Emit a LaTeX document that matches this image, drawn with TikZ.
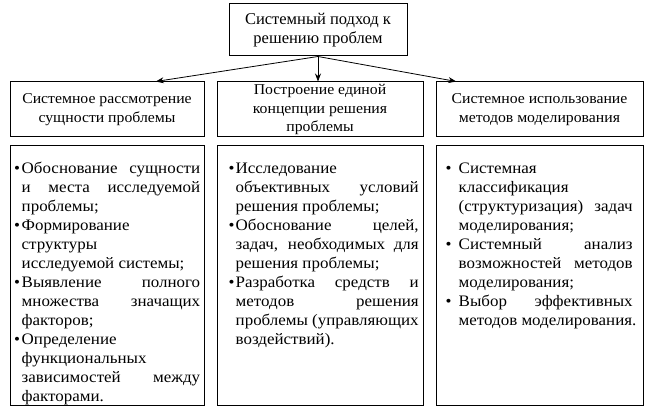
\documentclass[tikz,border=0pt]{standalone}
\usepackage{fontspec}
\setmainfont{Liberation Serif}
\newfontfamily\bodyfont{Liberation Serif}[FakeStretch=1.06]
\newfontfamily\headfont{Liberation Serif}[FakeStretch=1.05]
\usetikzlibrary{arrows.meta,calc}
\newlength\bhang
\newcommand\bitem[2]{\par\noindent\setlength\bhang{#1}\hangindent=\bhang\hangafter=1\makebox[\bhang][l]{\textbullet}#2\par}
\tikzset{
  box/.style={draw, line width=1pt, inner sep=0pt},
  headtext/.style={align=center, font=\headfont\fontsize{15}{18.5}\selectfont},
  bodytext/.style={anchor=north west, inner sep=0pt, align=justify, font=\bodyfont\fontsize{16}{19}\selectfont},
  arr/.style={line width=0.8pt, -{Stealth[length=8pt,width=6pt]}}
}
\begin{document}
\begin{tikzpicture}[x=1pt,y=1pt]
\useasboundingbox (0,0) rectangle (659,418);
% top
\node[box, minimum width=178pt, minimum height=52pt] (top) at (318,388) {};
\node[align=center, font=\fontsize{16.5}{19.5}\selectfont] (toptext) at (top.center) {Системный подход к\\решению проблем};
% headers
\node[box, minimum width=194pt, minimum height=55pt] (h1) at (107,308.5) {};
\node[box, minimum width=206pt, minimum height=55pt] (h2) at (320,308.5) {};
\node[box, minimum width=207pt, minimum height=55pt] (h3) at (539.5,308.5) {};
\node[headtext] (h1t) at (h1.center) {Системное рассмотрение\\сущности проблемы};
\node[headtext] (h2t) at (h2.center) {Построение единой\\концепции решения\\проблемы};
\node[headtext] (h3t) at (h3.center) {Системное использование\\методов моделирования};
% bodies
\node[box, minimum width=194pt, minimum height=259pt] (b1) at (107,142.5) {};
\node[box, minimum width=206pt, minimum height=259pt] (b2) at (320,142.5) {};
\node[box, minimum width=207pt, minimum height=259pt] (b3) at (539.5,142.5) {};
\node[bodytext, text width=186pt] (b1t) at ($(b1.north west)+(4.5,-9)$) {%
\bitem{7.5pt}{Обоснование сущности\linebreak и места исследуемой\linebreak проблемы;}%
\bitem{7.5pt}{Формирование\linebreak структуры\linebreak исследуемой системы;}%
\bitem{7.5pt}{Выявление полного\linebreak множества значащих\linebreak факторов;}%
\bitem{7.5pt}{Определение\linebreak функциональных\linebreak зависимостей между\linebreak факторами.}};
\node[bodytext, text width=190pt] (b2t) at ($(b2.north west)+(12,-9)$) {%
\bitem{7pt}{Исследование\linebreak объективных условий\linebreak решения проблемы;}%
\bitem{7pt}{Обоснование целей,\linebreak задач, необходимых для\linebreak решения проблемы;}%
\bitem{7pt}{Разработка средств и\linebreak методов решения\linebreak проблемы (управляющих\linebreak воздействий).}};
\node[bodytext, text width=187pt] (b3t) at ($(b3.north west)+(10,-9)$) {%
\bitem{13pt}{Системная\linebreak классификация\linebreak (структуризация) задач\linebreak моделирования;}%
\bitem{13pt}{Системный анализ\linebreak возможностей методов\linebreak моделирования;}%
\bitem{13pt}{Выбор эффективных\linebreak \mbox{методов моделирования.}}};
% arrows
\draw[arr] (top.south) -- ($(h1.north west)!0.75!(h1.north east)$);
\draw[arr] (top.south) -- (top.south |- h2.north);
\draw[arr] (top.south) -- ($(h3.north west)!0.1!(h3.north east)$);
\end{tikzpicture}
\end{document}
